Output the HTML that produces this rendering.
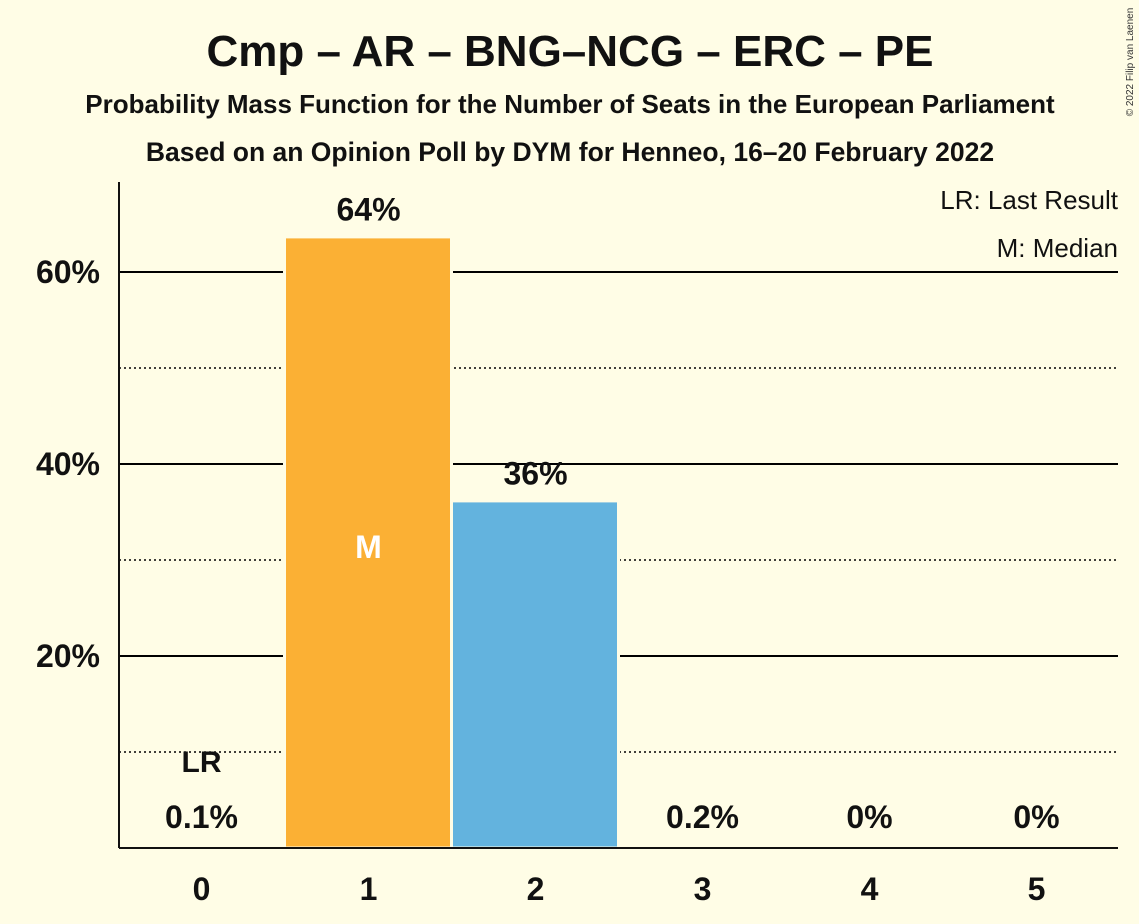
<!DOCTYPE html>
<html><head><meta charset="utf-8"><style>
body{margin:0;background:#FFFDE6;}
svg{display:block;font-family:"Liberation Sans",sans-serif;}
</style></head><body>
<svg id="chart" width="1139" height="924" viewBox="0 0 1139 924">
<rect width="1139" height="924" fill="#FFFDE6"/>
<text x="570" y="66" text-anchor="middle" font-size="44" font-weight="bold" fill="#111">Cmp – AR – BNG–NCG – ERC – PE</text>
<text x="570" y="113" text-anchor="middle" font-size="26" font-weight="bold" fill="#111">Probability Mass Function for the Number of Seats in the European Parliament</text>
<text x="570" y="161" text-anchor="middle" font-size="26.5" font-weight="bold" fill="#111">Based on an Opinion Poll by DYM for Henneo, 16–20 February 2022</text>
<text transform="translate(1133,62) rotate(-90)" text-anchor="middle" font-size="10" fill="#333">© 2022 Filip van Laenen</text>
<text x="1118" y="209" text-anchor="end" font-size="26" fill="#111">LR: Last Result</text>
<text x="1118" y="257" text-anchor="end" font-size="26" fill="#111">M: Median</text>
<g id="grid"></g>
<g id="bars"></g>
<g id="labels"></g>
<line x1="119" y1="182" x2="119" y2="848" stroke="#111" stroke-width="2"/>
<line x1="119" y1="848" x2="1118" y2="848" stroke="#111" stroke-width="2"/>
</svg>
<script>
const categories=[0,1,2,3,4,5];
const values=[0.1,63.5,36.0,0.2,0,0];
const valueLabels=["0.1%","64%","36%","0.2%","0%","0%"];
const solidTicks=[20,40,60];
const dottedTicks=[10,30,50];
const tickLabels=["20%","40%","60%"];
const medianIndex=1;
const lastResultIndex=0;
const colors=["#FBB034","#FBB034","#63B3DE","#63B3DE","#63B3DE","#63B3DE"];
const NS="http://www.w3.org/2000/svg";
const x0=119,step=167,y0=848,pxPer=9.6;
const xC=i=>x0+step/2+i*step-1;
const yV=v=>y0-v*pxPer;
function mk(t,a,p){const e=document.createElementNS(NS,t);for(const k in a)e.setAttribute(k,a[k]);p.appendChild(e);return e;}
const grid=document.getElementById('grid'),bars=document.getElementById('bars'),labels=document.getElementById('labels');
solidTicks.forEach((t,i)=>{
 const l=mk('line',{x1:x0,x2:1118,y1:yV(t),y2:yV(t),stroke:'#000','stroke-width':2},grid);
 
 
 const tx=mk('text',{x:100,y:yV(t)+11,'text-anchor':'end','font-size':32,'font-weight':'bold',fill:'#111'},labels);
 tx.textContent=tickLabels[i];
 
 
});
dottedTicks.forEach(t=>{
 const l=mk('line',{x1:x0,x2:1118,y1:yV(t),y2:yV(t),stroke:'#000','stroke-width':1.4,'stroke-dasharray':'2,3'},grid);
 
 
});
categories.forEach((c,i)=>{
 const v=values[i];
 if(v>=1){
  const r=mk('rect',{x:xC(i)-84,y:yV(v)-1.5,width:167,height:y0-yV(v)+1.5,fill:colors[i],stroke:'#FFFDE6','stroke-width':3},bars);
  
  
 }
 const xl=mk('text',{x:xC(i),y:900,'text-anchor':'middle','font-size':32,'font-weight':'bold',fill:'#111'},labels);
 xl.textContent=c;
 
 
 const vy=v>=5?yV(v)-18:828;
 const vl=mk('text',{x:xC(i),y:vy,'text-anchor':'middle','font-size':32,'font-weight':'bold',fill:'#111'},labels);
 vl.textContent=valueLabels[i];
 
 
});
const m=mk('text',{x:xC(medianIndex),y:558,'text-anchor':'middle','font-size':32,'font-weight':'bold',fill:'#fff'},labels);
m.textContent='M';


const lr=mk('text',{x:xC(lastResultIndex),y:772,'text-anchor':'middle','font-size':30,'font-weight':'bold',fill:'#111'},labels);
lr.textContent='LR';


</script>
</body></html>
